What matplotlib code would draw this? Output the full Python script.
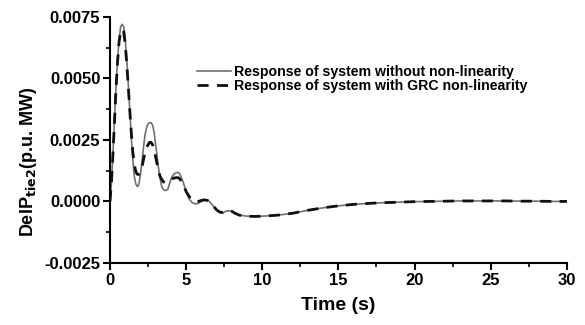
import matplotlib
matplotlib.use("Agg")
import matplotlib.pyplot as plt
from matplotlib.ticker import MultipleLocator, FormatStrFormatter

plt.rcParams['font.family'] = ['Liberation Sans', 'DejaVu Sans']
plt.rcParams['font.weight'] = 'bold'

# time samples (s)
time_s = [0, 0.1, 0.2, 0.3, 0.4, 0.5, 0.6, 0.7, 0.8, 0.9,
          1.0, 1.1, 1.2, 1.3, 1.4, 1.5, 1.6, 1.7, 1.8, 1.9,
          2.0, 2.1, 2.2, 2.3, 2.4, 2.5, 2.6, 2.7, 2.8, 2.9,
          3.0, 3.1, 3.2, 3.3, 3.4, 3.5, 3.6, 3.7, 3.8, 3.9,
          4.0, 4.2, 4.4, 4.5, 4.6, 4.8, 5.0, 5.2, 5.4, 5.6,
          5.8, 6.0, 6.2, 6.4, 6.6, 6.8, 7.0, 7.2, 7.4, 7.6,
          7.8, 8.0, 8.2, 8.5, 9.0, 9.5, 10, 11, 12, 13,
          14, 15, 16, 17, 18, 19, 20, 21, 22, 23,
          24, 25, 26, 27, 28, 29, 30]

# response without non-linearity (solid)
p_linear = [0.0, 0.0008, 0.0020, 0.0034, 0.0047, 0.0058, 0.0066, 0.0071, 0.0072, 0.0071,
            0.0066, 0.0058, 0.0048, 0.0037, 0.0026, 0.0017, 0.0010, 0.0007, 0.0006, 0.0007,
            0.0011, 0.0016, 0.0022, 0.0027, 0.0030, 0.00315, 0.0032, 0.0032, 0.0031, 0.0028,
            0.0023, 0.0018, 0.0013, 0.0009, 0.0006, 0.0005, 0.00044, 0.00045, 0.0005, 0.0007,
            0.0009, 0.00112, 0.00118, 0.00117, 0.0011, 0.0008, 0.0004, 0.0001, -0.00005, -0.0001,
            -0.00008, 0.0, 0.00008, 0.00006, -0.00005, -0.0002, -0.00035, -0.00045, -0.00046, -0.0004,
            -0.00038, -0.0004, -0.00048, -0.00056, -0.0006, -0.00061, -0.0006, -0.00056, -0.00048, -0.00036,
            -0.00026, -0.00018, -0.00012, -0.00008, -0.00005, -0.00003, -0.00001, 0.0, 0.00001, 0.00002,
            0.00002, 0.00002, 0.00002, 0.00001, 0.00001, 0.0, 0.0]

# response with GRC non-linearity (dashed)
p_grc = [0.0, 0.0008, 0.0020, 0.0033, 0.0046, 0.0057, 0.0065, 0.0069, 0.0070, 0.0069,
         0.0064, 0.0056, 0.0047, 0.0037, 0.0028, 0.0020, 0.0015, 0.0012, 0.0011, 0.0011,
         0.0012, 0.0014, 0.0017, 0.0020, 0.0022, 0.0023, 0.0024, 0.0024, 0.0023, 0.0021,
         0.0018, 0.0015, 0.0012, 0.0010, 0.0009, 0.0008, 0.00077, 0.00076, 0.0008, 0.00085,
         0.0009, 0.00095, 0.00097, 0.00096, 0.0009, 0.0007, 0.0004, 0.0002, 0.00005, 0.0,
         0.0, 0.00004, 0.00006, 0.00004, -0.00005, -0.0002, -0.00034, -0.00043, -0.00045, -0.0004,
         -0.00038, -0.0004, -0.00048, -0.00056, -0.0006, -0.00061, -0.0006, -0.00056, -0.00048, -0.00036,
         -0.00026, -0.00018, -0.00012, -0.00008, -0.00005, -0.00003, -0.00001, 0.0, 0.00001, 0.00002,
         0.00002, 0.00002, 0.00002, 0.00001, 0.00001, 0.0, 0.0]

labels = ['Response of system without non-linearity',
          'Response of system with GRC non-linearity']

fig = plt.figure(figsize=(5.85, 3.25), dpi=100)
ax = fig.add_axes([0.188, 0.191, 0.781, 0.757])

ax.plot(time_s, p_linear, color='#707070', linewidth=1.2, label=labels[0])
ax.plot(time_s, p_grc, color='#111111', linewidth=2.0, linestyle=(0, (4, 3)), label=labels[1])

ax.set_xlim(0, 30)
ax.set_ylim(-0.0025, 0.0075)
ax.xaxis.set_major_locator(MultipleLocator(5))
ax.xaxis.set_minor_locator(MultipleLocator(2.5))
ax.yaxis.set_major_locator(MultipleLocator(0.0025))
ax.yaxis.set_minor_locator(MultipleLocator(0.00125))
ax.yaxis.set_major_formatter(FormatStrFormatter('%.4f'))

for side in ['top', 'right']:
    ax.spines[side].set_visible(False)
for side in ['left', 'bottom']:
    ax.spines[side].set_linewidth(1.5)

ax.tick_params(which='major', direction='out', length=5, width=1.5, labelsize=12, pad=2)
ax.tick_params(which='minor', direction='out', length=3, width=1.2)

ax.set_xlabel('Time (s)', fontsize=14, fontweight='bold', labelpad=7)
ax.set_ylabel(r'DelP$_{\mathbf{tie2}}$(p.u. MW)', fontsize=13, fontweight='bold')
ax.yaxis.set_label_coords(-0.155, 0.41)

ax.legend(loc='upper left', bbox_to_anchor=(0.19, 0.805), frameon=False, fontsize=10.2,
          handlelength=2.4, handletextpad=0.2, labelspacing=0.0, borderpad=0, borderaxespad=0)

fig.savefig('out.png', dpi=100)
